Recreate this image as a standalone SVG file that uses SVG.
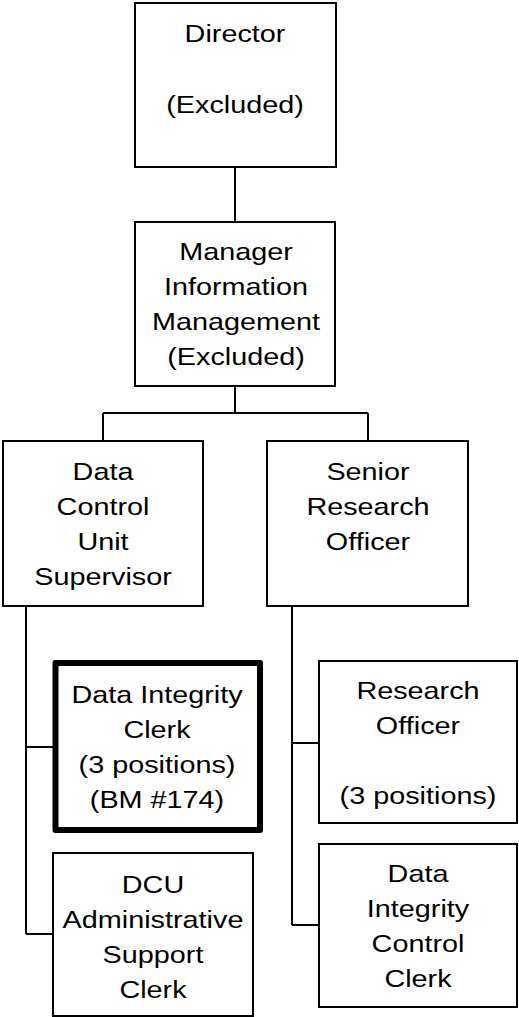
<svg xmlns="http://www.w3.org/2000/svg" width="519" height="1017" viewBox="0 0 519 1017">
<style>
.box{fill:#fff;stroke:#000;stroke-width:2}
.bold{fill:#fff;stroke:#000;stroke-width:6;stroke-linejoin:round}
.ln{fill:none;stroke:#000;stroke-width:2}
text{font-family:"Liberation Sans",Arial,sans-serif;font-size:24px;fill:#000;text-anchor:middle}
</style>
<rect width="519" height="1017" fill="#fff"/>
<g id="connectors">
<path class="ln" d="M235,167V222"/>
<path class="ln" d="M235,386V413M103,413H368M103,413V441M368,413V441"/>
<path class="ln" d="M26,606V934M26,747H53M26,934H53"/>
<path class="ln" d="M292,606V925M292,743H319M292,925H319"/>
</g>
<g id="director">
<rect class="box" x="135" y="3" width="201" height="164"/>
<text transform="translate(235,42) scale(1.2,1)">Director</text>
<text transform="translate(235,113) scale(1.2,1)">(Excluded)</text>
</g>
<g id="manager">
<rect class="box" x="135" y="222" width="200" height="164"/>
<text transform="translate(236,260) scale(1.2,1)">Manager</text>
<text transform="translate(236,295) scale(1.2,1)">Information</text>
<text transform="translate(236,330) scale(1.2,1)">Management</text>
<text transform="translate(236,365) scale(1.2,1)">(Excluded)</text>
</g>
<g id="dcu-supervisor">
<rect class="box" x="3" y="441" width="200" height="165"/>
<text transform="translate(103,480) scale(1.2,1)">Data</text>
<text transform="translate(103,515) scale(1.2,1)">Control</text>
<text transform="translate(103,550) scale(1.2,1)">Unit</text>
<text transform="translate(103,585) scale(1.2,1)">Supervisor</text>
</g>
<g id="senior-research-officer">
<rect class="box" x="267" y="441" width="201" height="165"/>
<text transform="translate(368,480) scale(1.2,1)">Senior</text>
<text transform="translate(368,515) scale(1.2,1)">Research</text>
<text transform="translate(368,550) scale(1.2,1)">Officer</text>
</g>
<g id="data-integrity-clerk">
<rect class="bold" x="55.5" y="663" width="204.5" height="167"/>
<text transform="translate(157,703) scale(1.2,1)">Data Integrity</text>
<text transform="translate(157,738) scale(1.2,1)">Clerk</text>
<text transform="translate(157,773) scale(1.2,1)">(3 positions)</text>
<text transform="translate(157,808) scale(1.2,1)">(BM #174)</text>
</g>
<g id="dcu-admin-clerk">
<rect class="box" x="53" y="853" width="200" height="163"/>
<text transform="translate(153,893) scale(1.2,1)">DCU</text>
<text transform="translate(153,928) scale(1.2,1)">Administrative</text>
<text transform="translate(153,963) scale(1.2,1)">Support</text>
<text transform="translate(153,998) scale(1.2,1)">Clerk</text>
</g>
<g id="research-officer">
<rect class="box" x="319" y="661" width="198" height="162"/>
<text transform="translate(418,699) scale(1.2,1)">Research</text>
<text transform="translate(418,734) scale(1.2,1)">Officer</text>
<text transform="translate(418,804) scale(1.2,1)">(3 positions)</text>
</g>
<g id="data-integrity-control-clerk">
<rect class="box" x="319" y="844" width="198" height="163"/>
<text transform="translate(418,882) scale(1.2,1)">Data</text>
<text transform="translate(418,917) scale(1.2,1)">Integrity</text>
<text transform="translate(418,952) scale(1.2,1)">Control</text>
<text transform="translate(418,987) scale(1.2,1)">Clerk</text>
</g>
</svg>
